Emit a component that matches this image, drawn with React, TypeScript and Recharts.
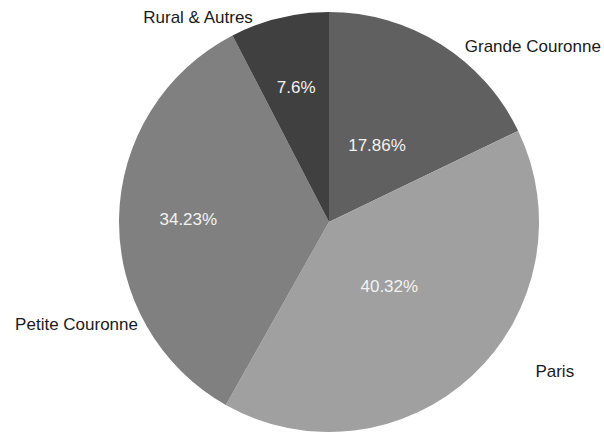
import React from 'react';
import { PieChart, Pie, Cell } from 'recharts';

// Share of each zone, slices run clockwise from 12 o'clock
const REGIONS = ['Grande Couronne', 'Paris', 'Petite Couronne', 'Rural & Autres'];
const SHARES = [17.86, 40.32, 34.23, 7.6];

const SHADES = ['#606060', '#a0a0a0', '#808080', '#404040'];

// label placement: radius factors / clockwise degrees from the top
const PCT_RADIUS = [0.43, 0.42, 0.67, 0.66];
const NAME_ANGLE = [37.8, 126, 241.7, 339.6];
const NAME_RADIUS = [1.055, 1.215, 1.033, 1.04];
const NAME_ANCHOR = ['start', 'start', 'end', 'end'];

const RAD = Math.PI / 180;
const FONT = '"Liberation Sans", Arial, sans-serif';

const data = REGIONS.map((name, i) => ({ name, value: SHARES[i] }));

const renderLabel = (props: any) => {
    const { cx, cy, midAngle, outerRadius, index } = props;
    const rp = outerRadius * PCT_RADIUS[index];
    const px = cx + rp * Math.cos(-midAngle * RAD);
    const py = cy + rp * Math.sin(-midAngle * RAD);
    const rn = outerRadius * NAME_RADIUS[index];
    const a = (90 - NAME_ANGLE[index]) * RAD;
    const nx = cx + rn * Math.cos(-a);
    const ny = cy + rn * Math.sin(-a);
    return (
        <g>
            <text x={px} y={py} fill="#f2f2f2" fontSize={17} fontFamily={FONT}
                textAnchor="middle" dominantBaseline="central">
                {`${SHARES[index]}%`}
            </text>
            <text x={nx} y={ny} fill="#1a1a1a" fontSize={17} fontFamily={FONT}
                textAnchor={NAME_ANCHOR[index]} dominantBaseline="central">
                {REGIONS[index]}
            </text>
        </g>
    );
};

export default function App() {
    return (
        <div style={{ position: 'absolute', left: 0, top: 0, width: 604, height: 432, background: '#fff' }}>
            <PieChart width={604} height={432} margin={{ top: 0, right: 0, bottom: 0, left: 0 }}>
                <Pie
                    data={data}
                    dataKey="value"
                    nameKey="name"
                    cx={329}
                    cy={222}
                    outerRadius={210}
                    startAngle={90}
                    endAngle={-270}
                    stroke="none"
                    label={renderLabel}
                    labelLine={false}
                    isAnimationActive={false}
                >
                    {data.map((d, i) => (
                        <Cell key={d.name} fill={SHADES[i]} />
                    ))}
                </Pie>
            </PieChart>
        </div>
    );
}
